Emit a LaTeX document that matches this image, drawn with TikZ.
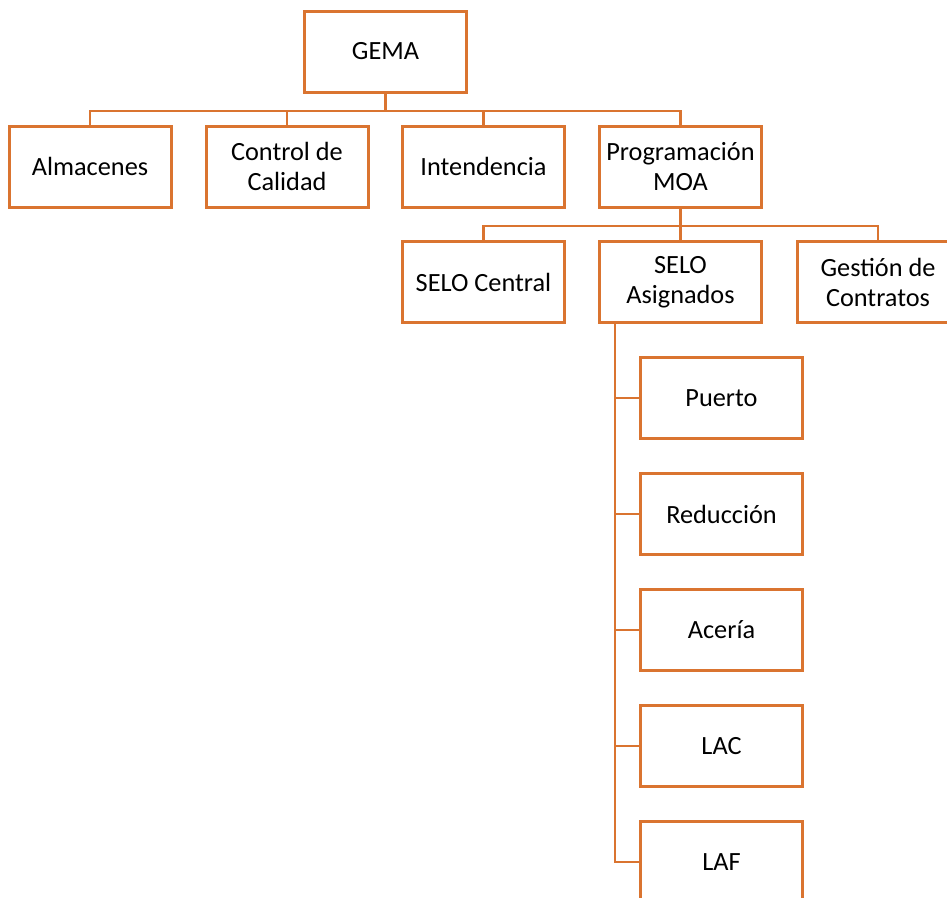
\documentclass[tikz,border=0pt]{standalone}
\usepackage{fontspec}
\setmainfont{Carlito}
\definecolor{orgline}{RGB}{218,116,48}
\begin{document}
\begin{tikzpicture}[x=1pt,y=-1pt,
  unit/.style={draw=orgline,line width=3pt,fill=white,minimum width=162pt,minimum height=81pt,
    align=center,inner sep=2pt,font=\fontsize{26.3}{30}\selectfont},
  link/.style={draw=orgline,line width=2.8pt}]
\useasboundingbox (0,0) rectangle (947,897);
\clip (0,0) rectangle (947,897);
% top level
\node[unit] (gema) at (385.5,51.5) {GEMA};
% first level
\node[unit] (alm) at (90,166.5) {Almacenes};
\node[unit] (cal) at (287,166.5) {Control de\\Calidad};
\node[unit] (int) at (483.5,166.5) {Intendencia};
\node[unit] (moa) at (680.5,166.5) {Programación\\MOA};
% second level
\node[unit] (cen) at (483.5,282) {SELO Central};
\node[unit] (asig) at (680.5,282) {SELO\\Asignados};
\node[unit] (con) at (878,282) {Gestión de\\Contratos};
% assigned units
\node[unit] (pue) at (721.5,398) {Puerto};
\node[unit] (red) at (721.5,514) {Reducción};
\node[unit] (ace) at (721.5,630) {Acería};
\node[unit] (lac) at (721.5,746) {LAC};
\node[unit] (laf) at (721.5,862) {LAF};
% connectors
\foreach \c in {alm,cal,int,moa}
  \draw[link] (gema.south) -- ++(0,17.5) -| (\c.north);
\foreach \c in {cen,asig,con}
  \draw[link] (moa.south) -- ++(0,17.5) -| (\c.north);
\foreach \c in {pue,red,ace,lac,laf}
  \draw[link] ([xshift=17pt]asig.south west) |- (\c.west);
\end{tikzpicture}
\end{document}
